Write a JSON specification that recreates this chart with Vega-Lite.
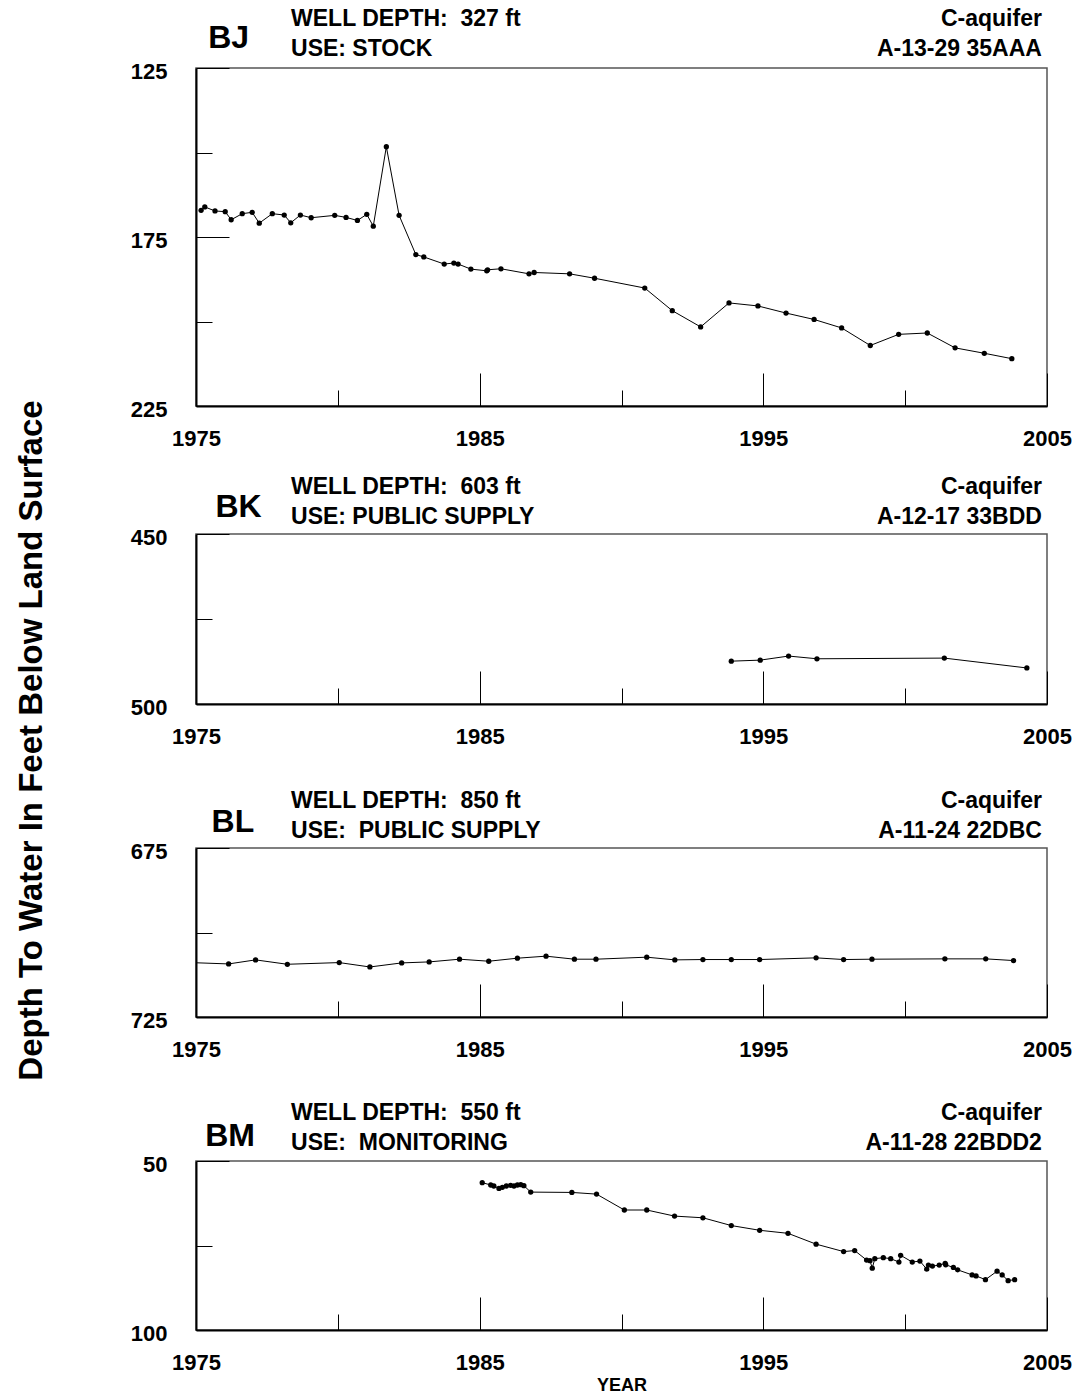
{
  "$schema": "https://vega.github.io/schema/vega-lite/v6.json",
  "autosize": {"type": "pad"},
  "padding": {"left": 14, "top": 7, "right": 5, "bottom": 2},
  "background": "white",
  "config": {
    "font": "Liberation Sans",
    "view": {"stroke": "#555", "strokeWidth": 1.5},
    "axis": {
      "grid": false,
      "labelFont": "Liberation Sans",
      "labelFontWeight": "bold",
      "labelFontSize": 22,
      "labelColor": "black",
      "tickColor": "black",
      "tickWidth": 1,
      "domainColor": "black",
      "domainWidth": 2,
      "labelOverlap": false,
      "labelFlush": false,
      "titleFont": "Liberation Sans",
      "titleFontWeight": "bold",
      "titleColor": "black"
    },
    "axisX": {"labelBaseline": "top", "labelPadding": 55, "format": "d", "labelExpr": "datum.value % 10 == 5 ? datum.label : ''", "tickSize": {"condition": {"test": "datum.value % 10 == 5", "value": -33}, "value": -16}},
    "axisY": {"labelPadding": 62, "labelOffset": 3, "format": "d"}
  },
  "datasets": {
    "bj": [
      {"year": 1975.18, "depth": 167.1}, {"year": 1975.31, "depth": 166.1}, {"year": 1975.67, "depth": 167.3},
      {"year": 1976.03, "depth": 167.5}, {"year": 1976.24, "depth": 169.9}, {"year": 1976.63, "depth": 168.1},
      {"year": 1976.98, "depth": 167.7}, {"year": 1977.23, "depth": 170.9}, {"year": 1977.69, "depth": 168.1},
      {"year": 1978.11, "depth": 168.5}, {"year": 1978.34, "depth": 170.8}, {"year": 1978.68, "depth": 168.5},
      {"year": 1979.06, "depth": 169.3}, {"year": 1979.89, "depth": 168.6}, {"year": 1980.29, "depth": 169.2},
      {"year": 1980.69, "depth": 170.1}, {"year": 1981.02, "depth": 168.3}, {"year": 1981.25, "depth": 171.8},
      {"year": 1981.71, "depth": 148.3}, {"year": 1982.16, "depth": 168.6}, {"year": 1982.75, "depth": 180.2},
      {"year": 1983.03, "depth": 180.9}, {"year": 1983.75, "depth": 183.0}, {"year": 1984.09, "depth": 182.7},
      {"year": 1984.24, "depth": 183.0}, {"year": 1984.69, "depth": 184.5}, {"year": 1985.25, "depth": 185.0},
      {"year": 1985.28, "depth": 184.7}, {"year": 1985.75, "depth": 184.4}, {"year": 1986.74, "depth": 185.9},
      {"year": 1986.92, "depth": 185.5}, {"year": 1988.17, "depth": 185.9}, {"year": 1989.05, "depth": 187.2},
      {"year": 1990.82, "depth": 190.1}, {"year": 1991.79, "depth": 196.8}, {"year": 1992.79, "depth": 201.6},
      {"year": 1993.79, "depth": 194.5}, {"year": 1994.81, "depth": 195.4}, {"year": 1995.80, "depth": 197.5},
      {"year": 1996.79, "depth": 199.4}, {"year": 1997.76, "depth": 201.9}, {"year": 1998.77, "depth": 207.1},
      {"year": 1999.77, "depth": 203.8}, {"year": 2000.78, "depth": 203.4}, {"year": 2001.76, "depth": 207.8},
      {"year": 2002.79, "depth": 209.4}, {"year": 2003.76, "depth": 211.0}
    ],
    "bk": [
      {"year": 1993.87, "depth": 487.4}, {"year": 1994.89, "depth": 487.1}, {"year": 1995.89, "depth": 485.9},
      {"year": 1996.89, "depth": 486.7}, {"year": 2001.38, "depth": 486.5}, {"year": 2004.29, "depth": 489.4}
    ],
    "bl": [
      {"year": 1974.8, "depth": 708.9}, {"year": 1976.15, "depth": 709.3}, {"year": 1977.10, "depth": 708.1},
      {"year": 1978.22, "depth": 709.4}, {"year": 1980.05, "depth": 708.9}, {"year": 1981.13, "depth": 710.2},
      {"year": 1982.25, "depth": 709.0}, {"year": 1983.22, "depth": 708.7}, {"year": 1984.29, "depth": 707.9},
      {"year": 1985.32, "depth": 708.5}, {"year": 1986.33, "depth": 707.6}, {"year": 1987.34, "depth": 707.0},
      {"year": 1988.34, "depth": 707.9}, {"year": 1989.10, "depth": 707.9}, {"year": 1990.89, "depth": 707.3},
      {"year": 1991.88, "depth": 708.1}, {"year": 1992.87, "depth": 708.0}, {"year": 1993.87, "depth": 708.0},
      {"year": 1994.87, "depth": 708.0}, {"year": 1996.86, "depth": 707.5}, {"year": 1997.83, "depth": 708.0},
      {"year": 1998.83, "depth": 707.9}, {"year": 2001.40, "depth": 707.8}, {"year": 2002.84, "depth": 707.8},
      {"year": 2003.82, "depth": 708.3}
    ],
    "bm": [
      {"year": 1985.09, "depth": 56.4}, {"year": 1985.39, "depth": 57.1}, {"year": 1985.50, "depth": 57.4},
      {"year": 1985.68, "depth": 58.1}, {"year": 1985.80, "depth": 57.8}, {"year": 1985.94, "depth": 57.4},
      {"year": 1986.09, "depth": 57.2}, {"year": 1986.21, "depth": 57.4}, {"year": 1986.33, "depth": 57.1},
      {"year": 1986.45, "depth": 57.0}, {"year": 1986.56, "depth": 57.3}, {"year": 1986.80, "depth": 59.2},
      {"year": 1988.25, "depth": 59.3}, {"year": 1989.12, "depth": 59.8}, {"year": 1990.10, "depth": 64.5},
      {"year": 1990.89, "depth": 64.5}, {"year": 1991.87, "depth": 66.3}, {"year": 1992.87, "depth": 66.8},
      {"year": 1993.87, "depth": 69.1}, {"year": 1994.87, "depth": 70.5}, {"year": 1995.87, "depth": 71.4},
      {"year": 1996.86, "depth": 74.6}, {"year": 1997.83, "depth": 76.8}, {"year": 1998.22, "depth": 76.5},
      {"year": 1998.64, "depth": 79.3}, {"year": 1998.76, "depth": 79.5}, {"year": 1998.84, "depth": 81.7},
      {"year": 1998.93, "depth": 78.9}, {"year": 1999.23, "depth": 78.6}, {"year": 1999.49, "depth": 78.9},
      {"year": 1999.78, "depth": 79.9}, {"year": 1999.84, "depth": 77.9}, {"year": 2000.25, "depth": 79.9},
      {"year": 2000.52, "depth": 79.6}, {"year": 2000.76, "depth": 82.0}, {"year": 2000.82, "depth": 80.8},
      {"year": 2000.96, "depth": 81.1}, {"year": 2001.20, "depth": 80.8}, {"year": 2001.41, "depth": 80.3},
      {"year": 2001.43, "depth": 80.7}, {"year": 2001.70, "depth": 81.5}, {"year": 2001.85, "depth": 82.2},
      {"year": 2002.36, "depth": 83.7}, {"year": 2002.50, "depth": 84.0}, {"year": 2002.83, "depth": 85.1},
      {"year": 2003.24, "depth": 82.6}, {"year": 2003.42, "depth": 83.7}, {"year": 2003.63, "depth": 85.4},
      {"year": 2003.86, "depth": 85.1}
    ],
    "info_bj": [{"well": "BJ", "wd": "WELL DEPTH:\u00a0 327 ft", "use": "USE: STOCK", "aq": "C-aquifer", "loc": "A-13-29 35AAA"}],
    "info_bk": [{"well": "BK", "wd": "WELL DEPTH:\u00a0 603 ft", "use": "USE: PUBLIC SUPPLY", "aq": "C-aquifer", "loc": "A-12-17 33BDD"}],
    "info_bl": [{"well": "BL", "wd": "WELL DEPTH:\u00a0 850 ft", "use": "USE:\u00a0 PUBLIC SUPPLY", "aq": "C-aquifer", "loc": "A-11-24 22DBC"}],
    "info_bm": [{"well": "BM", "wd": "WELL DEPTH:\u00a0 550 ft", "use": "USE:\u00a0 MONITORING", "aq": "C-aquifer", "loc": "A-11-28 22BDD2"}]
  },
  "bounds": "flush",
  "spacing": 128,
  "vconcat": [
    {
      "width": 851, "height": 338,
      "layer": [
        {"data": {"name": "bj"}, "mark": {"type": "line", "color": "black", "strokeWidth": 1, "clip": true},
         "encoding": {
           "x": {"field": "year", "type": "quantitative", "scale": {"domain": [1975, 2005], "nice": false, "zero": false},
                 "axis": {"values": [1975, 1980, 1985, 1990, 1995, 2000, 2005], "title": null}},
           "y": {"field": "depth", "type": "quantitative", "scale": {"domain": [125, 225], "reverse": true, "nice": false, "zero": false},
                 "axis": {"values": [125, 150, 175, 200, 225], "title": null,
                          "labelExpr": "(datum.value - 125) % 50 == 0 ? datum.label : ''",
                          "tickSize": {"condition": {"test": "(datum.value - 125) % 50 == 0", "value": -33}, "value": -16}}}
         }},
        {"data": {"name": "bj"}, "mark": {"type": "point", "filled": true, "color": "black", "opacity": 1, "size": 28, "clip": true},
         "encoding": {"x": {"field": "year", "type": "quantitative"}, "y": {"field": "depth", "type": "quantitative"}}},
        {"data": {"name": "info_bj"}, "mark": {"type": "text", "fontSize": 32, "fontWeight": "bold", "align": "center", "baseline": "alphabetic", "dy": -20, "color": "black"},
         "encoding": {"text": {"field": "well"}, "x": {"datum": 1976.15}, "y": {"datum": 125}}},
        {"data": {"name": "info_bj"}, "mark": {"type": "text", "fontSize": 23, "fontWeight": "bold", "align": "left", "baseline": "alphabetic", "dy": -42, "color": "black"},
         "encoding": {"text": {"field": "wd"}, "x": {"datum": 1978.35}, "y": {"datum": 125}}},
        {"data": {"name": "info_bj"}, "mark": {"type": "text", "fontSize": 23, "fontWeight": "bold", "align": "left", "baseline": "alphabetic", "dy": -12, "color": "black"},
         "encoding": {"text": {"field": "use"}, "x": {"datum": 1978.35}, "y": {"datum": 125}}},
        {"data": {"name": "info_bj"}, "mark": {"type": "text", "fontSize": 23, "fontWeight": "bold", "align": "right", "baseline": "alphabetic", "dy": -42, "color": "black"},
         "encoding": {"text": {"field": "aq"}, "x": {"datum": 2004.82}, "y": {"datum": 125}}},
        {"data": {"name": "info_bj"}, "mark": {"type": "text", "fontSize": 23, "fontWeight": "bold", "align": "right", "baseline": "alphabetic", "dy": -12, "color": "black"},
         "encoding": {"text": {"field": "loc"}, "x": {"datum": 2004.82}, "y": {"datum": 125}}}
      ]
    },
    {
      "bounds": "flush",
      "spacing": 144,
      "vconcat": [
        {
          "width": 851, "height": 170,
          "layer": [
            {"data": {"name": "bk"}, "mark": {"type": "line", "color": "black", "strokeWidth": 1, "clip": true},
             "encoding": {
               "x": {"field": "year", "type": "quantitative", "scale": {"domain": [1975, 2005], "nice": false, "zero": false},
                     "axis": {"values": [1975, 1980, 1985, 1990, 1995, 2000, 2005], "title": null}},
               "y": {"field": "depth", "type": "quantitative", "scale": {"domain": [450, 500], "reverse": true, "nice": false, "zero": false},
                     "axis": {"values": [450, 475, 500],
                              "labelExpr": "datum.value % 50 == 0 ? datum.label : ''",
                              "tickSize": {"condition": {"test": "datum.value % 50 == 0", "value": -33}, "value": -16},
                              "title": "Depth To Water In Feet Below Land Surface",
                              "titleFontSize": 33, "titleX": -165, "titleY": 206, "titleAngle": 270,
                              "titleAlign": "center", "titleBaseline": "middle"}}
             }},
            {"data": {"name": "bk"}, "mark": {"type": "point", "filled": true, "color": "black", "opacity": 1, "size": 28, "clip": true},
             "encoding": {"x": {"field": "year", "type": "quantitative"}, "y": {"field": "depth", "type": "quantitative"}}},
            {"data": {"name": "info_bk"}, "mark": {"type": "text", "fontSize": 32, "fontWeight": "bold", "align": "center", "baseline": "alphabetic", "dy": -17, "color": "black"},
             "encoding": {"text": {"field": "well"}, "x": {"datum": 1976.5}, "y": {"datum": 450}}},
            {"data": {"name": "info_bk"}, "mark": {"type": "text", "fontSize": 23, "fontWeight": "bold", "align": "left", "baseline": "alphabetic", "dy": -40, "color": "black"},
             "encoding": {"text": {"field": "wd"}, "x": {"datum": 1978.35}, "y": {"datum": 450}}},
            {"data": {"name": "info_bk"}, "mark": {"type": "text", "fontSize": 23, "fontWeight": "bold", "align": "left", "baseline": "alphabetic", "dy": -10, "color": "black"},
             "encoding": {"text": {"field": "use"}, "x": {"datum": 1978.35}, "y": {"datum": 450}}},
            {"data": {"name": "info_bk"}, "mark": {"type": "text", "fontSize": 23, "fontWeight": "bold", "align": "right", "baseline": "alphabetic", "dy": -40, "color": "black"},
             "encoding": {"text": {"field": "aq"}, "x": {"datum": 2004.82}, "y": {"datum": 450}}},
            {"data": {"name": "info_bk"}, "mark": {"type": "text", "fontSize": 23, "fontWeight": "bold", "align": "right", "baseline": "alphabetic", "dy": -10, "color": "black"},
             "encoding": {"text": {"field": "loc"}, "x": {"datum": 2004.82}, "y": {"datum": 450}}}
          ]
        },
        {
          "width": 851, "height": 169,
          "layer": [
            {"data": {"name": "bl"}, "mark": {"type": "line", "color": "black", "strokeWidth": 1, "clip": true},
             "encoding": {
               "x": {"field": "year", "type": "quantitative", "scale": {"domain": [1975, 2005], "nice": false, "zero": false},
                     "axis": {"values": [1975, 1980, 1985, 1990, 1995, 2000, 2005], "title": null}},
               "y": {"field": "depth", "type": "quantitative", "scale": {"domain": [675, 725], "reverse": true, "nice": false, "zero": false},
                     "axis": {"values": [675, 700, 725], "title": null,
                              "labelExpr": "(datum.value - 675) % 50 == 0 ? datum.label : ''",
                              "tickSize": {"condition": {"test": "(datum.value - 675) % 50 == 0", "value": -33}, "value": -16}}}
             }},
            {"data": {"name": "bl"}, "mark": {"type": "point", "filled": true, "color": "black", "opacity": 1, "size": 28, "clip": true},
             "encoding": {"x": {"field": "year", "type": "quantitative"}, "y": {"field": "depth", "type": "quantitative"}}},
            {"data": {"name": "info_bl"}, "mark": {"type": "text", "fontSize": 32, "fontWeight": "bold", "align": "center", "baseline": "alphabetic", "dy": -16, "color": "black"},
             "encoding": {"text": {"field": "well"}, "x": {"datum": 1976.3}, "y": {"datum": 675}}},
            {"data": {"name": "info_bl"}, "mark": {"type": "text", "fontSize": 23, "fontWeight": "bold", "align": "left", "baseline": "alphabetic", "dy": -40, "color": "black"},
             "encoding": {"text": {"field": "wd"}, "x": {"datum": 1978.35}, "y": {"datum": 675}}},
            {"data": {"name": "info_bl"}, "mark": {"type": "text", "fontSize": 23, "fontWeight": "bold", "align": "left", "baseline": "alphabetic", "dy": -10, "color": "black"},
             "encoding": {"text": {"field": "use"}, "x": {"datum": 1978.35}, "y": {"datum": 675}}},
            {"data": {"name": "info_bl"}, "mark": {"type": "text", "fontSize": 23, "fontWeight": "bold", "align": "right", "baseline": "alphabetic", "dy": -40, "color": "black"},
             "encoding": {"text": {"field": "aq"}, "x": {"datum": 2004.82}, "y": {"datum": 675}}},
            {"data": {"name": "info_bl"}, "mark": {"type": "text", "fontSize": 23, "fontWeight": "bold", "align": "right", "baseline": "alphabetic", "dy": -10, "color": "black"},
             "encoding": {"text": {"field": "loc"}, "x": {"datum": 2004.82}, "y": {"datum": 675}}}
          ]
        },
        {
          "width": 851, "height": 169,
          "layer": [
            {"data": {"name": "bm"}, "mark": {"type": "line", "color": "black", "strokeWidth": 1, "clip": true},
             "encoding": {
               "x": {"field": "year", "type": "quantitative", "scale": {"domain": [1975, 2005], "nice": false, "zero": false},
                     "axis": {"values": [1975, 1980, 1985, 1990, 1995, 2000, 2005], "title": "YEAR",
                              "titleFontSize": 18, "titleY": 60, "titleBaseline": "alphabetic"}},
               "y": {"field": "depth", "type": "quantitative", "scale": {"domain": [50, 100], "reverse": true, "nice": false, "zero": false},
                     "axis": {"values": [50, 75, 100], "title": null,
                              "labelExpr": "datum.value % 50 == 0 ? datum.label : ''",
                              "tickSize": {"condition": {"test": "datum.value % 50 == 0", "value": -33}, "value": -16}}}
             }},
            {"data": {"name": "bm"}, "mark": {"type": "point", "filled": true, "color": "black", "opacity": 1, "size": 28, "clip": true},
             "encoding": {"x": {"field": "year", "type": "quantitative"}, "y": {"field": "depth", "type": "quantitative"}}},
            {"data": {"name": "info_bm"}, "mark": {"type": "text", "fontSize": 32, "fontWeight": "bold", "align": "center", "baseline": "alphabetic", "dy": -15, "color": "black"},
             "encoding": {"text": {"field": "well"}, "x": {"datum": 1976.2}, "y": {"datum": 50}}},
            {"data": {"name": "info_bm"}, "mark": {"type": "text", "fontSize": 23, "fontWeight": "bold", "align": "left", "baseline": "alphabetic", "dy": -41, "color": "black"},
             "encoding": {"text": {"field": "wd"}, "x": {"datum": 1978.35}, "y": {"datum": 50}}},
            {"data": {"name": "info_bm"}, "mark": {"type": "text", "fontSize": 23, "fontWeight": "bold", "align": "left", "baseline": "alphabetic", "dy": -11, "color": "black"},
             "encoding": {"text": {"field": "use"}, "x": {"datum": 1978.35}, "y": {"datum": 50}}},
            {"data": {"name": "info_bm"}, "mark": {"type": "text", "fontSize": 23, "fontWeight": "bold", "align": "right", "baseline": "alphabetic", "dy": -41, "color": "black"},
             "encoding": {"text": {"field": "aq"}, "x": {"datum": 2004.82}, "y": {"datum": 50}}},
            {"data": {"name": "info_bm"}, "mark": {"type": "text", "fontSize": 23, "fontWeight": "bold", "align": "right", "baseline": "alphabetic", "dy": -11, "color": "black"},
             "encoding": {"text": {"field": "loc"}, "x": {"datum": 2004.82}, "y": {"datum": 50}}}
          ]
        }
      ]
    }
  ]
}
